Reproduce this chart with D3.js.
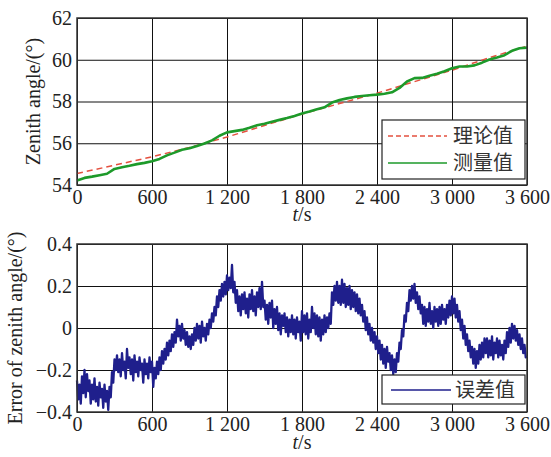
<!DOCTYPE html>
<html>
<head>
<meta charset="utf-8">
<script src="https://cdn.jsdelivr.net/npm/d3@7"></script>
<style>
  body { margin: 0; background: #fff; }
  svg { display: block; }
</style>
</head>
<body>
<svg id="chart" width="551" height="457"></svg>
<script>
// time axis ticks
const timeTicks = [0, 600, 1200, 1800, 2400, 3000, 3600];
const angleTicks = [54, 56, 58, 60, 62];
const errTicks = [-0.4, -0.2, 0, 0.2, 0.4];

// theoretical zenith angle (t, deg)
const theoryT = [0, 300, 600, 900, 1200, 1500, 1800, 2100, 2400, 2700, 3000, 3300, 3600];
const theoryV = [54.55, 54.95, 55.35, 55.8, 56.3, 56.85, 57.4, 57.9, 58.4, 58.95, 59.5, 60.1, 60.65];

// measured zenith angle, every 60 s
const measStep = 60;
const measV = [
  54.22, 54.34, 54.40, 54.47, 54.54, 54.77, 54.85, 54.92, 55.00, 55.06,
  55.14, 55.25, 55.42, 55.55, 55.69, 55.76, 55.87, 55.99, 56.14, 56.36,
  56.52, 56.58, 56.64, 56.74, 56.86, 56.93, 57.03, 57.12, 57.21, 57.31,
  57.42, 57.52, 57.63, 57.72, 57.95, 58.07, 58.15, 58.22, 58.26, 58.30,
  58.33, 58.37, 58.44, 58.65, 58.96, 59.12, 59.13, 59.23, 59.33, 59.45,
  59.59, 59.68, 59.68, 59.73, 59.86, 60.01, 60.11, 60.22, 60.43, 60.55,
  60.58
];

// error of zenith angle, every 10 s
const errStep = 10;
const errV = [
  // 0 - 270
  -0.25, -0.34, -0.27, -0.36, -0.23, -0.31, -0.20, -0.33, -0.22, -0.30,
  -0.25, -0.36, -0.27, -0.34, -0.24, -0.35, -0.28, -0.37, -0.26, -0.33,
  -0.29, -0.38, -0.27, -0.35, -0.30, -0.39, -0.28, -0.33,
  // 280 - 310
  -0.21, -0.26, -0.15, -0.20,
  // 320 - 610
  -0.13, -0.21, -0.15, -0.23, -0.12, -0.20, -0.16, -0.24, -0.10, -0.19,
  -0.14, -0.22, -0.15, -0.25, -0.13, -0.21, -0.16, -0.23, -0.14, -0.20,
  -0.17, -0.26, -0.15, -0.22, -0.17, -0.24, -0.14, -0.21, -0.16, -0.28,
  // 620 - 790
  -0.19, -0.24, -0.16, -0.22, -0.14, -0.20, -0.11, -0.17, -0.10, -0.15,
  -0.07, -0.13, -0.06, -0.11, -0.03, -0.09, -0.02, -0.07,
  // 800 - 1030
  0.04, -0.04, 0.01, -0.06, 0.02, -0.05, -0.01, -0.08, -0.02, -0.09,
  -0.04, -0.10, -0.03, -0.08, 0.00, -0.06, 0.02, -0.05, 0.01, -0.07,
  0.03, -0.04, 0.00, -0.06,
  // 1040 - 1270
  0.02, -0.03, 0.04, 0.00, 0.07, 0.03, 0.10, 0.06, 0.15, 0.10,
  0.18, 0.13, 0.21, 0.15, 0.22, 0.16, 0.25, 0.18, 0.24, 0.19,
  0.30, 0.17, 0.22, 0.12,
  // 1280 - 1490
  0.18, 0.08, 0.15, 0.06, 0.16, 0.09, 0.17, 0.07, 0.14, 0.05,
  0.16, 0.09, 0.18, 0.08, 0.15, 0.06, 0.17, 0.10, 0.19, 0.09,
  0.22, 0.10,
  // 1500 - 1790
  0.13, 0.04, 0.11, 0.02, 0.12, 0.05, 0.13, 0.00, 0.09, 0.02,
  0.10, -0.01, 0.07, -0.03, 0.06, 0.01, 0.07, -0.02, 0.05, -0.04,
  0.04, -0.02, 0.06, -0.03, 0.04, -0.05, 0.05, -0.02, 0.03, -0.06,
  // 1800 - 2030
  0.08, -0.02, 0.06, -0.03, 0.07, -0.05, 0.04, -0.02, 0.10, 0.00,
  0.07, -0.03, 0.06, -0.04, 0.05, -0.06, 0.04, -0.03, 0.06, -0.02,
  0.05, 0.00, 0.07, 0.02,
  // 2040 - 2090
  0.17, 0.11, 0.20, 0.13, 0.22, 0.12,
  // 2100 - 2270
  0.20, 0.11, 0.23, 0.12, 0.21, 0.10, 0.19, 0.11, 0.20, 0.09,
  0.18, 0.10, 0.17, 0.08, 0.16, 0.07, 0.14, 0.06,
  // 2280 - 2750
  0.11, 0.03, 0.08, -0.01, 0.05, -0.03, 0.02, -0.06, 0.00, -0.07,
  -0.02, -0.10, -0.04, -0.12, -0.06, -0.15, -0.08, -0.17, -0.10, -0.19,
  -0.09, -0.16, -0.12, -0.20, -0.13, -0.22, -0.15, -0.21, -0.12, -0.16,
  -0.07, -0.10, -0.01, -0.04, 0.06, 0.03, 0.12, 0.08, 0.18, 0.13,
  0.20, 0.14, 0.21, 0.12, 0.17, 0.09, 0.15, 0.07,
  // 2760 - 2970
  0.11, 0.02, 0.10, 0.01, 0.09, 0.03, 0.12, 0.02, 0.08, 0.00,
  0.10, 0.03, 0.09, 0.01, 0.10, 0.02, 0.11, 0.04, 0.09, 0.02,
  0.11, 0.05,
  // 2980 - 3270
  0.13, 0.06, 0.15, 0.07, 0.14, 0.05, 0.11, 0.03, 0.08, -0.01,
  0.04, -0.05, 0.01, -0.08, -0.03, -0.11, -0.06, -0.14, -0.09, -0.17,
  -0.10, -0.19, -0.11, -0.17, -0.08, -0.15, -0.07, -0.14, -0.05, -0.12,
  // 3280 - 3430
  -0.05, -0.14, -0.06, -0.13, -0.04, -0.15, -0.07, -0.12, -0.05, -0.14,
  -0.06, -0.13, -0.08, -0.15, -0.06, -0.12,
  // 3440 - 3600
  -0.02, -0.09, 0.00, -0.07, 0.02, -0.05, 0.01, -0.06, -0.01, -0.08,
  -0.03, -0.10, -0.05, -0.12, -0.08, -0.14, -0.13
];

const svg = d3.select('#chart');
const serif = '"Liberation Serif", "DejaVu Serif", serif';
const cjk = '"Noto Sans CJK SC", sans-serif';
const textCol = '#222';

const left = 77, right = 527;
const timeFmt = d => d3.format(',')(d).replace(',', ' ');

const x = d3.scaleLinear().domain([0, 3600]).range([left, right]);

// draws grid, tick labels and titles for one panel
const panel = (top, bottom, yDomain, yTicks, yFmt, yTitle, titleX, pad, tsY) => {
    const y = d3.scaleLinear().domain(yDomain).range([bottom, top]);
    const h = bottom - top;
    const g = svg.append('g');

    const xa = g.append('g')
        .attr('transform', `translate(0,${bottom})`)
        .call(d3.axisBottom(x).tickValues(timeTicks).tickFormat(timeFmt)
            .tickSize(-h).tickPadding(pad).tickSizeOuter(0));
    const ya = g.append('g')
        .attr('transform', `translate(${left},0)`)
        .call(d3.axisLeft(y).tickValues(yTicks).tickFormat(yFmt)
            .tickSize(-(right - left)).tickPadding(5).tickSizeOuter(0));

    [xa, ya].forEach(a => {
        a.select('.domain').remove();
        a.selectAll('line').attr('stroke', '#111').attr('stroke-width', 1);
        a.selectAll('text')
            .attr('fill', textCol)
            .style('font-family', serif)
            .style('font-size', '20px');
    });

    g.append('text')
        .attr('transform', `translate(${titleX},${(top + bottom) / 2}) rotate(-90)`)
        .attr('text-anchor', 'middle')
        .attr('fill', textCol)
        .style('font-family', serif)
        .style('font-size', '20px')
        .text(yTitle);

    const ts = g.append('text')
        .attr('x', 302).attr('y', tsY)
        .attr('text-anchor', 'middle')
        .attr('fill', textCol)
        .style('font-family', serif)
        .style('font-size', '20px');
    ts.append('tspan').style('font-style', 'italic').text('t');
    ts.append('tspan').text('/s');

    return { g, y };
};

const frame = (g, top, bottom) => {
    g.append('rect')
        .attr('x', left).attr('y', top)
        .attr('width', right - left).attr('height', bottom - top)
        .attr('fill', 'none')
        .attr('stroke', '#333')
        .attr('stroke-width', 1.5);
};

// ---- top panel
const p1 = panel(18, 185, [54, 62], angleTicks, d3.format('d'), 'Zenith angle/(°)', 40, 5, 221);

const line1 = d3.line().x(d => x(d[0])).y(d => p1.y(d[1]));
const theory = theoryT.map((t, i) => [t, theoryV[i]]);
const meas = measV.map((v, i) => [i * measStep, v]);

p1.g.append('path')
    .datum(theory)
    .attr('d', line1)
    .attr('fill', 'none')
    .attr('stroke', '#e4503f')
    .attr('stroke-width', 1.5)
    .attr('stroke-dasharray', '6,4');

p1.g.append('path')
    .datum(meas)
    .attr('d', line1)
    .attr('fill', 'none')
    .attr('stroke', '#1d9a2a')
    .attr('stroke-width', 2.6)
    .attr('stroke-linejoin', 'round');

frame(p1.g, 18, 185);

// legend top
const lg1 = p1.g.append('g');
lg1.append('rect')
    .attr('x', 382).attr('y', 120).attr('width', 143).attr('height', 59)
    .attr('fill', '#fff').attr('stroke', '#222').attr('stroke-width', 1.2);
lg1.append('line')
    .attr('x1', 388).attr('x2', 447).attr('y1', 136).attr('y2', 136)
    .attr('stroke', '#e4503f').attr('stroke-width', 1.5).attr('stroke-dasharray', '5,3');
lg1.append('line')
    .attr('x1', 388).attr('x2', 447).attr('y1', 163).attr('y2', 163)
    .attr('stroke', '#1d9a2a').attr('stroke-width', 1.5);
[['理论值', 136], ['测量值', 163]].forEach(([s, yy]) => {
    lg1.append('text')
        .attr('x', 453).attr('y', yy).attr('dy', '0.36em')
        .attr('fill', '#333')
        .style('font-family', cjk)
        .style('font-size', '20px')
        .text(s);
});

// ---- bottom panel
const errFmt = d => d === 0 ? '0' : d3.format('.1f')(d);
const p2 = panel(244, 412, [-0.4, 0.4], errTicks, errFmt, 'Error of zenith angle/(°)', 22, 5, 449);

const err = errV.map((v, i) => [i * errStep, v]);
p2.g.append('path')
    .datum(err)
    .attr('d', d3.line().x(d => x(d[0])).y(d => p2.y(d[1])))
    .attr('fill', 'none')
    .attr('stroke', '#1f1f8c')
    .attr('stroke-width', 2.3)
    .attr('stroke-linejoin', 'round');

frame(p2.g, 244, 412);

const lg2 = p2.g.append('g');
lg2.append('rect')
    .attr('x', 382).attr('y', 375).attr('width', 143).attr('height', 29)
    .attr('fill', '#fff').attr('stroke', '#222').attr('stroke-width', 1.2);
lg2.append('line')
    .attr('x1', 391).attr('x2', 451).attr('y1', 390).attr('y2', 390)
    .attr('stroke', '#1f1f8c').attr('stroke-width', 1.5);
lg2.append('text')
    .attr('x', 455).attr('y', 390).attr('dy', '0.36em')
    .attr('fill', '#333')
    .style('font-family', cjk)
    .style('font-size', '20px')
    .text('误差值');
</script>
</body>
</html>
